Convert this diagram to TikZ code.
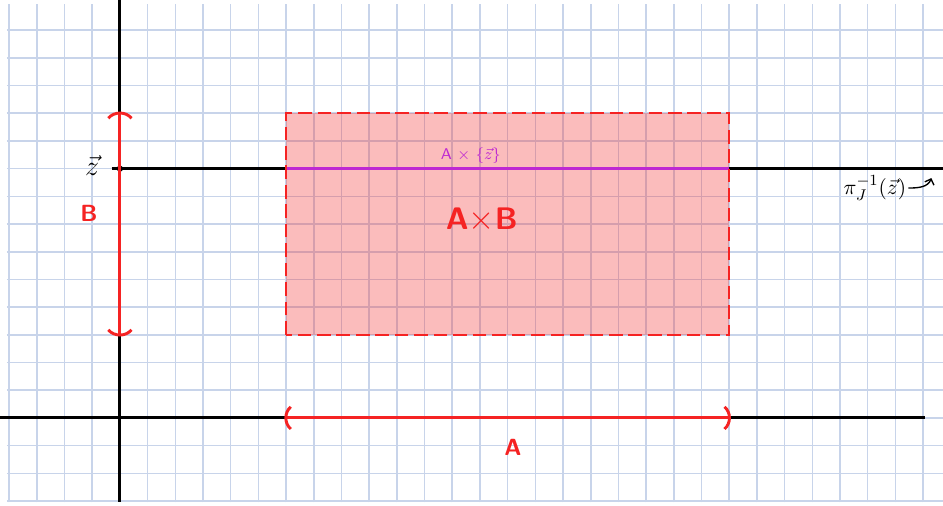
\documentclass[tikz,border=0pt]{standalone}
\usepackage{amsmath}
\definecolor{gridblue}{RGB}{200,212,234}
\definecolor{penred}{RGB}{245,35,35}
\definecolor{penmagenta}{RGB}{190,40,210}
\usetikzlibrary{arrows.meta,positioning,calc}
\begin{document}
\begin{tikzpicture}[x=0.5cm, y=0.5cm,
  gridline/.style={draw=gridblue, line width=0.8pt},
  axis/.style={draw=black, line width=1.5pt},
  ivl/.style={draw=penred, line width=1.5pt},
  redlbl/.style={text=penred, font=\sffamily\bfseries\fontsize{12}{14}\selectfont}]
\useasboundingbox (-4.33,-3.18) rectangle (29.72,15.09);
\fill[white] (-4.33,-3.18) rectangle (29.72,15.09);
% Paper
\foreach \gx in {-4,...,29} \draw[gridline] (\gx,-3.05) -- (\gx,14.95);
\foreach \gy in {-3,...,14} \draw[gridline] (-4.08,\gy) -- (29.72,\gy);
% Points
\coordinate (O) at (0,0);
\coordinate (xl) at (-4.33,0);
\coordinate (xr) at (29.06,0);
\coordinate (yb) at (0,-3.03);
\coordinate (yt) at (0,15.09);
\coordinate (z) at (0,9);
\coordinate (zl) at (-0.3,9);
\coordinate (zr) at (29.72,9);
\coordinate (Alo) at (6,0);
\coordinate (Ahi) at (22,0);
\coordinate (Blo) at (0,3);
\coordinate (Bhi) at (0,11);
\coordinate (fibl) at (6,9);
\coordinate (fibr) at (22,9);
% Product set
\fill[penred, fill opacity=0.3] (6,3) rectangle (22,11);
% Axes
\draw[axis] (xl) -- (xr);
\draw[axis] (yb) -- (yt);
\draw[axis] (zl) -- (zr);
\fill (z) circle (1.6pt);
\draw[draw=penmagenta, line width=1.5pt] (fibl) -- (fibr);
% Intervals
\draw[ivl] (Alo) -- (Ahi);
\draw[ivl] ($(Alo)+(0.17,0.4)$) to[bend right=50] ($(Alo)+(0.17,-0.4)$);
\draw[ivl] ($(Ahi)+(-0.17,0.4)$) to[bend left=50] ($(Ahi)+(-0.17,-0.4)$);
\draw[ivl] (Blo) -- (Bhi);
\draw[ivl] ($(Bhi)+(-0.42,-0.18)$) to[bend left=50] ($(Bhi)+(0.42,-0.18)$);
\draw[ivl] ($(Blo)+(-0.42,0.18)$) to[bend right=50] ($(Blo)+(0.42,0.18)$);
\draw[draw=penred, line width=1pt, dash pattern=on 7pt off 3pt] (6,3) rectangle (22,11);
% Labels
\node[redlbl] (Blbl) at (-1.12,7.4) {B};
\node[redlbl] (Albl) at (14.19,-1.05) {A};
\node[redlbl, font=\sffamily\bfseries\fontsize{16}{18}\selectfont] (ABlbl) at (13.07,7.15) {A$\times$B};
\node[text=penmagenta, font=\sffamily\fontsize{8}{10}\selectfont] (fiblbl) at (12.67,9.46) {A $\times$ $\{\vec{z}\}$};
\node[font=\fontsize{14}{16}\selectfont] (zlbl) at (-1.0,9.1) {$\vec{z}$};
\node[font=\fontsize{11}{13}\selectfont, inner sep=1pt] (pilbl) at (27.26,8.3) {$\pi_J^{-1}(\vec{z})$};
\coordinate (pitip) at (29.3,8.66);
\draw[-{Straight Barb[length=2.5pt]}, line width=0.7pt] (pilbl.east) to[out=0, in=-110] (pitip);
\end{tikzpicture}
\end{document}
